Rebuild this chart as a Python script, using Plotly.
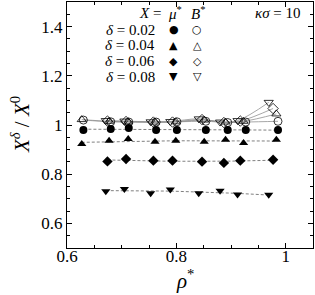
import numpy as np
import plotly.graph_objects as go

# ---------------- data ----------------
x02 = [0.630, 0.680, 0.713, 0.763, 0.801, 0.854, 0.894, 0.927, 0.986]
mu02 = [0.980, 0.984, 0.988, 0.980, 0.980, 0.980, 0.980, 0.980, 0.980]
b02 = [1.020, 1.013, 1.012, 1.012, 1.013, 1.015, 1.010, 1.012, 1.015]

x04 = [0.627, 0.677, 0.712, 0.761, 0.799, 0.851, 0.890, 0.923, 0.983]
mu04 = [0.923, 0.936, 0.943, 0.932, 0.936, 0.932, 0.940, 0.927, 0.940]
b04 = [1.022, 1.015, 1.013, 1.012, 1.013, 1.020, 1.012, 1.015, 1.045]

x06 = [0.674, 0.708, 0.758, 0.793, 0.847, 0.887, 0.917, 0.977]
mu06 = [0.852, 0.862, 0.855, 0.855, 0.851, 0.846, 0.855, 0.859]
b06 = [1.016, 1.014, 1.012, 1.012, 1.022, 1.010, 1.016, 1.067]

x08 = [0.671, 0.705, 0.753, 0.789, 0.841, 0.880, 0.912, 0.969]
mu08 = [0.731, 0.740, 0.723, 0.738, 0.723, 0.733, 0.717, 0.716]
b08 = [1.018, 1.016, 1.013, 1.014, 1.025, 1.012, 1.018, 1.092]

deltas = ["0.02", "0.04", "0.06", "0.08"]
symbols = ["circle", "triangle-up", "diamond", "triangle-down"]
sizes = [8, 8, 8, 8]
xtick_vals = [0.6, 0.8, 1.0]
xtick_text = ["0.6", "0.8", "1"]
ytick_vals = [0.6, 0.8, 1.0, 1.2, 1.4]
ytick_text = ["0.6", "0.8", "1", "1.2", "1.4"]

series = [(x02, mu02, b02), (x04, mu04, b04), (x06, mu06, b06), (x08, mu08, b08)]

FONT = "Liberation Serif"
fig = go.Figure()

# fit lines (dashed) for mu*, smooth lines (solid) for B*
for (xs, mu, bs) in series:
    c = np.polyfit(xs, mu, 2)
    xf = np.linspace(xs[0], xs[-1], 60)
    fig.add_trace(go.Scatter(x=xf, y=np.polyval(c, xf), mode="lines",
                             line=dict(color="#808080", width=1, dash="3px,2px"),
                             showlegend=False, hoverinfo="skip"))
    fig.add_trace(go.Scatter(x=xs, y=bs, mode="lines",
                             line=dict(color="#909090", width=0.8, shape="spline", smoothing=1.0),
                             showlegend=False, hoverinfo="skip"))

for (xs, mu, bs), sym, sz in zip(series, symbols, sizes):
    fig.add_trace(go.Scatter(x=xs, y=mu, mode="markers",
                             marker=dict(symbol=sym, size=sz, color="black", line=dict(width=0)),
                             showlegend=False))
    fig.add_trace(go.Scatter(x=xs, y=bs, mode="markers",
                             marker=dict(symbol=sym + "-open", size=sz, color="black", line=dict(width=0.8)),
                             showlegend=False))

L, R, T, B = 67, 313.5, 2, 248
W, H = R - L, B - T

def px(x):
    return (x - L) / W

def py(y):
    return (B - y) / H

ann = []
ann.append(dict(x=px(163), y=py(13), text="<i>X</i> =", xanchor="right", yanchor="middle",
                font=dict(size=15, family=FONT, color="black")))
ann.append(dict(x=px(175), y=py(13), text="<i>μ</i><sup>*</sup>", xanchor="center", yanchor="middle",
                font=dict(size=15, family=FONT, color="black")))
ann.append(dict(x=px(198), y=py(13), text="<i>B</i><sup>*</sup>", xanchor="center", yanchor="middle",
                font=dict(size=15, family=FONT, color="black")))
ann.append(dict(x=px(303), y=py(13), text="<i>κσ</i> = 10", xanchor="right", yanchor="middle",
                font=dict(size=15, family=FONT, color="black")))
filled = ["●", "▲", "◆", "▼"]
opened = ["○", "△", "◇", "▽"]
rows = [29.5, 45.3, 61, 76.7]
for d, f, o, r in zip(deltas, filled, opened, rows):
    ann.append(dict(x=px(157), y=py(r), text="<i>δ</i> = " + d, xanchor="right", yanchor="middle",
                    font=dict(size=15, family=FONT, color="black")))
    ann.append(dict(x=px(174), y=py(r), text=f, xanchor="center", yanchor="middle",
                    font=dict(size=11, family="DejaVu Sans", color="black")))
    ann.append(dict(x=px(197.5), y=py(r), text=o, xanchor="center", yanchor="middle",
                    font=dict(size=11, family="DejaVu Sans", color="black")))
# axis titles
ann.append(dict(x=px(20), y=py(125), text="<i>X</i><sup><i>δ</i></sup> / <i>X</i><sup>0</sup>",
                textangle=-90, xanchor="center", yanchor="middle",
                font=dict(size=21, family=FONT, color="black")))
ann.append(dict(x=px(185), y=py(295), text="<i>ρ</i><sup>*</sup>", xanchor="center", yanchor="bottom",
                font=dict(size=21, family=FONT, color="black")))
for a in ann:
    a.update(xref="paper", yref="paper", showarrow=False)

axis_common = dict(showgrid=False, zeroline=False, showline=True, linecolor="black", linewidth=1,
                   mirror="allticks", ticks="inside", ticklen=5, tickwidth=1, tickcolor="black",
                   tickfont=dict(size=17, family=FONT, color="black"))
fig.update_layout(
    width=315, height=295,
    margin=dict(l=L, r=315 - R, t=T, b=295 - B),
    paper_bgcolor="white", plot_bgcolor="white",
    xaxis=dict(range=[0.6, 1.05], tickvals=xtick_vals, ticktext=xtick_text, ticklabelstandoff=-7,
               minor=dict(dtick=0.05, ticks="inside", ticklen=3, tickcolor="black", tickwidth=1, tick0=0.6),
               **axis_common),
    yaxis=dict(range=[0.5, 1.5], tickvals=ytick_vals, ticktext=ytick_text,
               minor=dict(dtick=0.05, ticks="inside", ticklen=3, tickcolor="black", tickwidth=1, tick0=0.5),
               **axis_common),
    annotations=ann,
    showlegend=False,
)
fig.write_html("out.html", config={"displayModeBar": False},
               post_script="document.body.style.margin='0';document.body.style.padding='0';")
